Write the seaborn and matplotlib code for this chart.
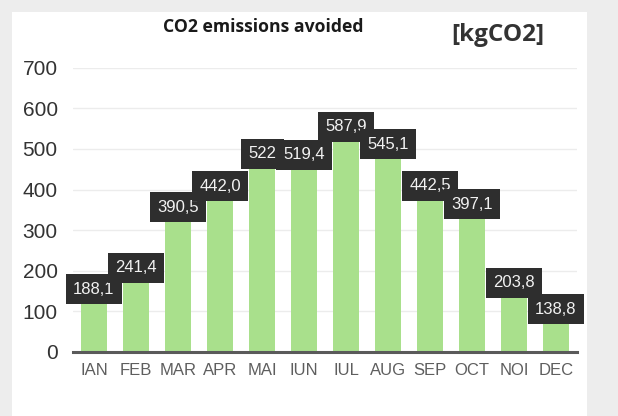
import matplotlib
matplotlib.use("Agg")
import matplotlib.pyplot as plt
import seaborn as sns
import pandas as pd
from matplotlib.patches import Rectangle

months = ["IAN", "FEB", "MAR", "APR", "MAI", "IUN", "IUL", "AUG", "SEP", "OCT", "NOI", "DEC"]
values = [188.1, 241.4, 390.5, 442.0, 522.0, 519.4, 587.9, 545.1, 442.5, 397.1, 203.8, 138.8]
labels = ["188,1", "241,4", "390,5", "442,0", "522", "519,4", "587,9", "545,1", "442,5", "397,1", "203,8", "138,8"]
yticks = [0, 100, 200, 300, 400, 500, 600, 700]

df = pd.DataFrame({"month": months, "value": values})

sns.set_theme(style="white")
plt.rcParams["font.family"] = ["Liberation Sans", "DejaVu Sans"]

fig = plt.figure(figsize=(6.18, 4.16), dpi=100)
fig.patch.set_facecolor("#ededed")
# white chart panel inside the light grey scan border
fig.patches.append(Rectangle((12 / 618, -0.01), (587 - 12) / 618, 1 - 12 / 416 + 0.01,
                             transform=fig.transFigure, facecolor="white",
                             edgecolor="none", zorder=-5))

ax = fig.add_axes([73 / 618, 0.154, (577 - 73) / 618, 0.683])
ax.set_zorder(2)
ax.set_facecolor("white")
sns.barplot(data=df, x="month", y="value", color="#a9e08c", width=0.62,
            saturation=1, ax=ax, zorder=2)
for p in ax.patches:
    p.set_edgecolor("none")

ax.set_ylim(0, 700)
ax.set_xlim(-0.5, 11.5)
ax.set_yticks(yticks)
ax.set_yticklabels([str(t) for t in yticks], fontsize=15, color="#333333")
ax.set_xticks(range(len(months)))
ax.set_xticklabels(months, fontsize=12, color="#5e5e5e")
ax.tick_params(axis="y", length=0, pad=11)
ax.tick_params(axis="x", length=0, pad=8)
ax.set_xlabel("")
ax.set_ylabel("")
ax.yaxis.grid(True, color="#ececec", linewidth=1.0, zorder=0)
ax.set_axisbelow(True)
for s in ["top", "right", "left"]:
    ax.spines[s].set_visible(False)
ax.spines["bottom"].set_color("#5a5a5a")
ax.spines["bottom"].set_linewidth(2.2)
ax.spines["bottom"].set_zorder(3)

fs = 12
pad = 0.45
for i, (v, lab) in enumerate(zip(values, labels)):
    ax.annotate(lab, (i, v), xytext=(0, -pad * fs + 1.0), textcoords="offset points",
                ha="center", va="top", fontsize=fs, color="#f2f2f2",
                zorder=5 + i,
                bbox=dict(boxstyle="square,pad=%s" % pad, facecolor="#2e2e2e",
                          edgecolor="none"))

fig.text(263 / 618, 0.935, "CO2 emissions avoided", ha="center", va="center",
         fontsize=12.7, fontweight="bold", color="#1a1a1a", family=["Open Sans", "DejaVu Sans"])
fig.text(498 / 618, 0.916, "[kgCO2]", ha="center", va="center",
         fontsize=17.5, fontweight="bold", color="#333333", family=["Open Sans", "DejaVu Sans"])

fig.savefig("out.png", dpi=100, facecolor=fig.get_facecolor())
